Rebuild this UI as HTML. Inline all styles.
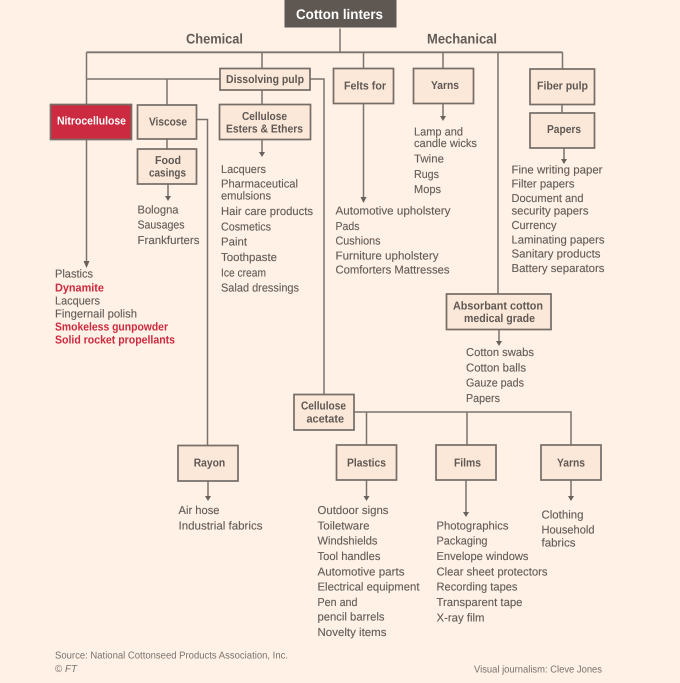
<!DOCTYPE html>
<html><head><meta charset="utf-8"><style>
html,body{margin:0;padding:0;background:#fff1e5}
svg{display:block}
text{font-family:"Liberation Sans",sans-serif;font-size:11.5px;fill:#625c58;stroke:#625c58;stroke-width:.12;text-rendering:geometricPrecision}
.b{font-weight:bold;fill:#5f5854;stroke:none}
.r{font-weight:bold;fill:#cc2a40;stroke:none}
.w{font-weight:bold;fill:#fff;stroke:none}
.h{font-weight:bold;font-size:14px;stroke:none}
.s{font-size:10px;fill:#77716d;stroke:none}
rect{fill:#fbe8d8;stroke:#746d68;stroke-width:1.7}
path.l{fill:none;stroke:#7a736e;stroke-width:1.5}
path.t{fill:none;stroke:#7a736e;stroke-width:1.8}
path.a{fill:#68615c;stroke:none}
</style></head><body>
<svg width="680" height="683" viewBox="0 0 680 683" xmlns="http://www.w3.org/2000/svg">
<rect x="0" y="0" width="680" height="683" style="fill:#fff1e5;stroke:none"/>
<path class="t" d="M86.500 52.300H562.500"/>
<path class="l" d="M86.500 104V52.300M562.500 52.300V69M262 52V68M340 28V52M363.500 52V68M443 52V68M498 52V294M86.500 79H220M167 79V105M310 79H324V394M262 90V104M167 139V149M197 119.500H207.500V445M86.500 139V262M262 140V153M168 184V197M363.500 104V198M443 104V117M562 105V113M564 148V160M499 330V342M354 412H571V445M366.500 412V445M467 412V445M208 481V497M366.500 480V497M466 480V513M571 480V497"/>
<path class="a" d="M83.500 261H89.500L86.500 268ZM259 152H265L262 157ZM165 196H171L168 201ZM360.500 197H366.500L363.500 203ZM440 116H446L443 121ZM561 159H567L564 164ZM496 341H502L499 346ZM205 496H211L208 501ZM363.500 496H369.500L366.500 501ZM463 512H469L466 517ZM568 496H574L571 501Z"/>
<rect x="284" y="-2" width="113" height="30" style="fill:#5f5751;stroke:#fff1e5;stroke-width:1"/>
<rect x="50.500" y="104.500" width="81" height="35" style="fill:#cc2a40"/>
<rect x="137.500" y="105" width="59" height="34"/>
<rect x="220" y="68.500" width="90" height="21.500"/>
<rect x="219.500" y="104.500" width="91" height="35"/>
<rect x="137.500" y="149" width="59" height="35"/>
<rect x="333.500" y="68.500" width="60" height="35"/>
<rect x="413.500" y="68.500" width="60" height="35"/>
<rect x="530" y="69" width="64.500" height="35.500"/>
<rect x="530" y="113" width="64.500" height="35"/>
<rect x="446.500" y="294" width="104.500" height="35.500"/>
<rect x="294" y="394.500" width="60" height="35.500"/>
<rect x="178" y="445.500" width="60" height="35.500"/>
<rect x="336.500" y="445" width="60" height="35"/>
<rect x="436" y="445" width="60" height="35"/>
<rect x="541" y="445" width="60" height="35"/>

<text x="296" y="19" textLength="87" lengthAdjust="spacingAndGlyphs" style="font-size:14px;font-weight:bold;fill:#fff;stroke:none">Cotton linters</text>
<text class="h" x="186" y="43.500" textLength="57" lengthAdjust="spacingAndGlyphs">Chemical</text>
<text class="h" x="427" y="43.500" textLength="70" lengthAdjust="spacingAndGlyphs">Mechanical</text>

<text class="w" x="57" y="124.500" textLength="69" lengthAdjust="spacingAndGlyphs">Nitrocellulose</text>
<text class="b" x="149" y="125.500" textLength="38" lengthAdjust="spacingAndGlyphs">Viscose</text>
<text class="b" x="226" y="83" textLength="78" lengthAdjust="spacingAndGlyphs">Dissolving pulp</text>
<text class="b" x="242" y="120" textLength="45" lengthAdjust="spacingAndGlyphs">Cellulose</text>
<text class="b" x="226" y="132.500" textLength="77" lengthAdjust="spacingAndGlyphs">Esters &amp; Ethers</text>
<text class="b" x="155" y="164" textLength="26" lengthAdjust="spacingAndGlyphs">Food</text>
<text class="b" x="149" y="176.500" textLength="37" lengthAdjust="spacingAndGlyphs">casings</text>
<text class="b" x="344" y="89.500" textLength="42" lengthAdjust="spacingAndGlyphs">Felts for</text>
<text class="b" x="431" y="89" textLength="28" lengthAdjust="spacingAndGlyphs">Yarns</text>
<text class="b" x="537" y="89.500" textLength="51" lengthAdjust="spacingAndGlyphs">Fiber pulp</text>
<text class="b" x="547" y="133" textLength="34" lengthAdjust="spacingAndGlyphs">Papers</text>
<text class="b" x="453" y="309.500" textLength="90" lengthAdjust="spacingAndGlyphs">Absorbant cotton</text>
<text class="b" x="464" y="322" textLength="71" lengthAdjust="spacingAndGlyphs">medical grade</text>
<text class="b" x="301" y="409.700" textLength="45" lengthAdjust="spacingAndGlyphs">Cellulose</text>
<text class="b" x="306.500" y="422.300" textLength="37.500" lengthAdjust="spacingAndGlyphs">acetate</text>
<text class="b" x="347" y="466.700" textLength="39" lengthAdjust="spacingAndGlyphs">Plastics</text>
<text class="b" x="454" y="466.700" textLength="27" lengthAdjust="spacingAndGlyphs">Films</text>
<text class="b" x="557" y="466.700" textLength="28" lengthAdjust="spacingAndGlyphs">Yarns</text>
<text class="b" x="193.700" y="466.700" textLength="31.500" lengthAdjust="spacingAndGlyphs">Rayon</text>

<text x="55" y="277.500" textLength="38" lengthAdjust="spacingAndGlyphs">Plastics</text>
<text class="r" x="55" y="291.700" textLength="49" lengthAdjust="spacingAndGlyphs">Dynamite</text>
<text x="55" y="304.700" textLength="45" lengthAdjust="spacingAndGlyphs">Lacquers</text>
<text x="55" y="317.500" textLength="82" lengthAdjust="spacingAndGlyphs">Fingernail polish</text>
<text class="r" x="55" y="330.300" textLength="113" lengthAdjust="spacingAndGlyphs">Smokeless gunpowder</text>
<text class="r" x="55" y="343.700" textLength="120" lengthAdjust="spacingAndGlyphs">Solid rocket propellants</text>

<text x="137.500" y="213.300" textLength="41" lengthAdjust="spacingAndGlyphs">Bologna</text>
<text x="137.500" y="228.700" textLength="47" lengthAdjust="spacingAndGlyphs">Sausages</text>
<text x="137.500" y="244" textLength="62" lengthAdjust="spacingAndGlyphs">Frankfurters</text>

<text x="221" y="173" textLength="45" lengthAdjust="spacingAndGlyphs">Lacquers</text>
<text x="221" y="187.500" textLength="77" lengthAdjust="spacingAndGlyphs">Pharmaceutical</text>
<text x="221" y="199.500" textLength="50" lengthAdjust="spacingAndGlyphs">emulsions</text>
<text x="221" y="215" textLength="92" lengthAdjust="spacingAndGlyphs">Hair care products</text>
<text x="221" y="230.300" textLength="50" lengthAdjust="spacingAndGlyphs">Cosmetics</text>
<text x="221" y="245.700" textLength="26" lengthAdjust="spacingAndGlyphs">Paint</text>
<text x="221" y="261" textLength="56" lengthAdjust="spacingAndGlyphs">Toothpaste</text>
<text x="221" y="276.300" textLength="45" lengthAdjust="spacingAndGlyphs">Ice cream</text>
<text x="221" y="291.500" textLength="78" lengthAdjust="spacingAndGlyphs">Salad dressings</text>

<text x="335.500" y="214.700" textLength="115" lengthAdjust="spacingAndGlyphs">Automotive upholstery</text>
<text x="335.500" y="230" textLength="24" lengthAdjust="spacingAndGlyphs">Pads</text>
<text x="335.500" y="244.700" textLength="45" lengthAdjust="spacingAndGlyphs">Cushions</text>
<text x="335.500" y="259.300" textLength="103" lengthAdjust="spacingAndGlyphs">Furniture upholstery</text>
<text x="335.500" y="273.300" textLength="114" lengthAdjust="spacingAndGlyphs">Comforters Mattresses</text>

<text x="414" y="135.300" textLength="49" lengthAdjust="spacingAndGlyphs">Lamp and</text>
<text x="414" y="147" textLength="63" lengthAdjust="spacingAndGlyphs">candle wicks</text>
<text x="414" y="162.700" textLength="30" lengthAdjust="spacingAndGlyphs">Twine</text>
<text x="414" y="178" textLength="25" lengthAdjust="spacingAndGlyphs">Rugs</text>
<text x="414" y="193" textLength="27" lengthAdjust="spacingAndGlyphs">Mops</text>

<text x="511.500" y="173.500" textLength="91" lengthAdjust="spacingAndGlyphs">Fine writing paper</text>
<text x="511.500" y="187.700" textLength="63" lengthAdjust="spacingAndGlyphs">Filter papers</text>
<text x="511.500" y="202" textLength="72" lengthAdjust="spacingAndGlyphs">Document and</text>
<text x="511.500" y="214.300" textLength="77" lengthAdjust="spacingAndGlyphs">security papers</text>
<text x="511.500" y="229" textLength="45" lengthAdjust="spacingAndGlyphs">Currency</text>
<text x="511.500" y="243.300" textLength="93" lengthAdjust="spacingAndGlyphs">Laminating papers</text>
<text x="511.500" y="257.700" textLength="89" lengthAdjust="spacingAndGlyphs">Sanitary products</text>
<text x="511.500" y="272" textLength="93" lengthAdjust="spacingAndGlyphs">Battery separators</text>

<text x="466" y="356" textLength="68" lengthAdjust="spacingAndGlyphs">Cotton swabs</text>
<text x="466" y="371.300" textLength="60" lengthAdjust="spacingAndGlyphs">Cotton balls</text>
<text x="466" y="386.700" textLength="58" lengthAdjust="spacingAndGlyphs">Gauze pads</text>
<text x="466" y="402" textLength="34" lengthAdjust="spacingAndGlyphs">Papers</text>

<text x="178.500" y="514" textLength="41" lengthAdjust="spacingAndGlyphs">Air hose</text>
<text x="178.500" y="529.300" textLength="84" lengthAdjust="spacingAndGlyphs">Industrial fabrics</text>

<text x="317.500" y="514" textLength="71" lengthAdjust="spacingAndGlyphs">Outdoor signs</text>
<text x="317.500" y="529.300" textLength="52" lengthAdjust="spacingAndGlyphs">Toiletware</text>
<text x="317.500" y="544.700" textLength="60" lengthAdjust="spacingAndGlyphs">Windshields</text>
<text x="317.500" y="560" textLength="63" lengthAdjust="spacingAndGlyphs">Tool handles</text>
<text x="317.500" y="575.300" textLength="87" lengthAdjust="spacingAndGlyphs">Automotive parts</text>
<text x="317.500" y="590.700" textLength="102" lengthAdjust="spacingAndGlyphs">Electrical equipment</text>
<text x="317.500" y="606" textLength="40" lengthAdjust="spacingAndGlyphs">Pen and</text>
<text x="317.500" y="620.700" textLength="67" lengthAdjust="spacingAndGlyphs">pencil barrels</text>
<text x="317.500" y="636" textLength="69" lengthAdjust="spacingAndGlyphs">Novelty items</text>

<text x="436.500" y="529.300" textLength="72" lengthAdjust="spacingAndGlyphs">Photographics</text>
<text x="436.500" y="544.700" textLength="51" lengthAdjust="spacingAndGlyphs">Packaging</text>
<text x="436.500" y="560" textLength="92" lengthAdjust="spacingAndGlyphs">Envelope windows</text>
<text x="436.500" y="575.300" textLength="111" lengthAdjust="spacingAndGlyphs">Clear sheet protectors</text>
<text x="436.500" y="590.700" textLength="81" lengthAdjust="spacingAndGlyphs">Recording tapes</text>
<text x="436.500" y="606" textLength="86" lengthAdjust="spacingAndGlyphs">Transparent tape</text>
<text x="436.500" y="621.300" textLength="48" lengthAdjust="spacingAndGlyphs">X-ray film</text>

<text x="541.500" y="518.300" textLength="42" lengthAdjust="spacingAndGlyphs">Clothing</text>
<text x="541.500" y="533.700" textLength="53" lengthAdjust="spacingAndGlyphs">Household</text>
<text x="541.500" y="546.700" textLength="34" lengthAdjust="spacingAndGlyphs">fabrics</text>

<text class="s" x="55" y="658.700" textLength="233" lengthAdjust="spacingAndGlyphs">Source: National Cottonseed Products Association, Inc.</text>
<text class="s" x="55" y="672" textLength="22" lengthAdjust="spacingAndGlyphs">© <tspan font-style="italic">FT</tspan></text>
<text class="s" x="474" y="672.700" textLength="128" lengthAdjust="spacingAndGlyphs">Visual journalism: Cleve Jones</text>
</svg>
</body></html>
